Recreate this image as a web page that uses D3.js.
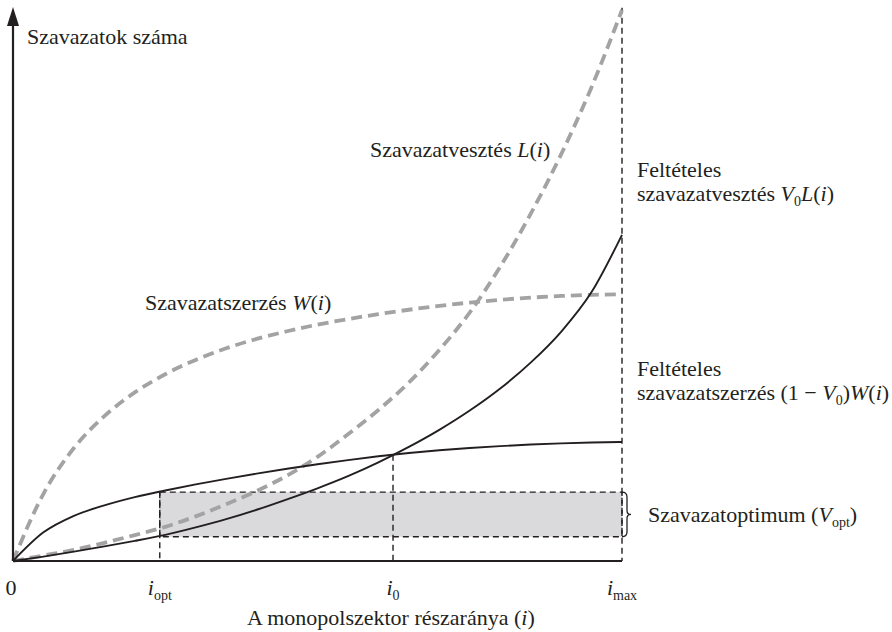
<!DOCTYPE html>
<html lang="hu">
<head>
<meta charset="UTF-8">
<title>Szavazatoptimum</title>
<script src="https://d3js.org/d3.v7.min.js"></script>
<style>
  body { margin: 0; background: #fff; }
  svg text { font-family: "Liberation Serif", "DejaVu Serif", serif; font-size: 22px; fill: #231f20; }
</style>
</head>
<body>
<svg width="892" height="632"></svg>
<script>
  // share of the monopoly sector (i), 0 .. i_max
  var iValues = [0, 0.05, 0.1, 0.15, 0.2, 0.25, 0.3, 0.35, 0.4, 0.45, 0.5,
                 0.55, 0.6, 0.65, 0.7, 0.75, 0.8, 0.85, 0.9, 0.95, 1];
  // W(i) vote gain
  var gainW = [0, 12.2, 20.5, 26.3, 30.6, 33.9, 36.5, 38.6, 40.3, 41.7, 42.9,
               43.9, 44.8, 45.6, 46.3, 46.9, 47.4, 47.8, 48.1, 48.3, 48.4];
  // L(i) vote loss
  var lossL = [0, 1.0, 2.0, 3.3, 4.7, 6.2, 8.1, 10.3, 12.7, 15.5, 18.9,
               23.0, 27.4, 32.4, 38.3, 45.1, 53.4, 63.0, 73.8, 86.0, 100];
  // V0 L(i) conditional loss
  var condLoss = [0, 0.8, 1.7, 2.65, 3.65, 4.75, 6.1, 7.6, 9.3, 11.2, 13.2,
                  15.4, 17.9, 20.7, 23.8, 27.3, 31.3, 36.0, 41.6, 48.8, 59.2];
  // (1 - V0) W(i) conditional gain
  var condGain = [0, 5.2, 8.2, 10.1, 11.6, 12.8, 13.9, 14.9, 15.85, 16.75, 17.55,
                  18.3, 19.0, 19.6, 20.1, 20.5, 20.85, 21.15, 21.35, 21.5, 21.6];

  var iOpt = 0.241, i0 = 0.624, iMax = 1;
  var i0Level = 19.3;
  var vOpt = [4.4, 12.5];

  var tickValues = [0, iOpt, i0, iMax];
  var tickNames = ['0', 'i', 'i', 'i'];
  var tickSubs = ['', 'opt', '0', 'max'];

  var svg = d3.select('svg');
  var x = d3.scaleLinear().domain([0, 1]).range([13, 622]);
  var y = d3.scaleLinear().domain([0, 100]).range([561, 10]);

  function series(vals) {
    return iValues.map(function (d, k) { return {i: d, v: vals[k]}; });
  }

  var line = d3.line()
    .x(function (d) { return x(d.i); })
    .y(function (d) { return y(d.v); })
    .curve(d3.curveMonotoneX);

  // optimum band
  svg.append('rect')
    .attr('x', x(iOpt))
    .attr('y', y(vOpt[1]))
    .attr('width', x(iMax) - x(iOpt))
    .attr('height', y(vOpt[0]) - y(vOpt[1]))
    .attr('fill', '#dadadc')
    .attr('stroke', '#231f20')
    .attr('stroke-width', 1.4)
    .attr('stroke-dasharray', '6,4');

  // vertical guides
  var guides = [[iOpt, vOpt[1]], [i0, i0Level], [iMax, 100.4]];
  guides.forEach(function (g) {
    svg.append('line')
      .attr('x1', x(g[0])).attr('x2', x(g[0]))
      .attr('y1', y(g[1])).attr('y2', y(0))
      .attr('stroke', '#231f20')
      .attr('stroke-width', 1.4)
      .attr('stroke-dasharray', '6,4');
  });

  // gray dashed curves
  [gainW, lossL].forEach(function (vals) {
    svg.append('path')
      .datum(series(vals))
      .attr('fill', 'none')
      .attr('stroke', '#a3a3a3')
      .attr('stroke-width', 3.8)
      .attr('stroke-dasharray', '11,6')
      .attr('d', line);
  });

  // black conditional curves
  [condLoss, condGain].forEach(function (vals) {
    svg.append('path')
      .datum(series(vals))
      .attr('fill', 'none')
      .attr('stroke', '#231f20')
      .attr('stroke-width', 1.9)
      .attr('d', line);
  });

  // axes
  svg.append('line')
    .attr('x1', x(0)).attr('x2', x(iMax))
    .attr('y1', y(0)).attr('y2', y(0))
    .attr('stroke', '#231f20').attr('stroke-width', 2.2);
  svg.append('line')
    .attr('x1', x(0)).attr('x2', x(0))
    .attr('y1', y(0)).attr('y2', 20)
    .attr('stroke', '#231f20').attr('stroke-width', 2.2);
  svg.append('path')
    .attr('d', 'M' + (x(0) - 6) + ',26 L' + x(0) + ',7 L' + (x(0) + 6) + ',26 Z')
    .attr('fill', '#231f20');

  // brace
  var bx = x(iMax), bt = y(vOpt[1]), bb = y(vOpt[0]), bm = (bt + bb) / 2;
  svg.append('path')
    .attr('d', 'M' + bx + ',' + bt + ' q5,0 5,5 V' + (bm - 4) + ' q0,4 4,4 q-4,0 -4,4 V' + (bb - 5) + ' q0,5 -5,5')
    .attr('fill', 'none')
    .attr('stroke', '#231f20')
    .attr('stroke-width', 1.3);

  // tick labels
  tickValues.forEach(function (v, k) {
    var t = svg.append('text')
      .attr('x', x(v) + (k === 0 ? -2 : 0))
      .attr('y', 595)
      .attr('text-anchor', 'middle');
    t.append('tspan').style('font-style', k === 0 ? 'normal' : 'italic').text(tickNames[k]);
    if (tickSubs[k]) {
      t.append('tspan').attr('dy', 5).style('font-size', '14px').text(tickSubs[k]);
    }
  });

  function label(px, py, parts) {
    var t = svg.append('text').attr('x', px).attr('y', py);
    parts.forEach(function (p) {
      var s = t.append('tspan').text(p[0]);
      if (p[1] === 'i') s.style('font-style', 'italic');
      if (p[1] === 'sub') s.attr('dy', 5).style('font-size', '14px');
      if (p[1] === 'up') s.attr('dy', -5);
      if (p[1] === 'upi') s.attr('dy', -5).style('font-style', 'italic');
    });
    return t;
  }

  label(27, 44, [['Szavazatok száma']]);
  label(247, 625, [['A monopolszektor részaránya ('], ['i', 'i'], [')']]);

  label(370, 157, [['Szavazatvesztés '], ['L', 'i'], ['('], ['i', 'i'], [')']]);
  label(145, 310, [['Szavazatszerzés '], ['W', 'i'], ['('], ['i', 'i'], [')']]);

  label(637, 177, [['Feltételes']]);
  label(637, 201, [['szavazatvesztés '], ['V', 'i'], ['0', 'sub'], ['L', 'upi'], ['('], ['i', 'i'], [')']]);

  label(637, 376, [['Feltételes']]);
  label(637, 400, [['szavazatszerzés (1 − '], ['V', 'i'], ['0', 'sub'], [')', 'up'], ['W', 'i'], ['('], ['i', 'i'], [')']]);

  label(648, 522, [['Szavazatoptimum ('], ['V', 'i'], ['opt', 'sub'], [')', 'up']]);
</script>
</body>
</html>
